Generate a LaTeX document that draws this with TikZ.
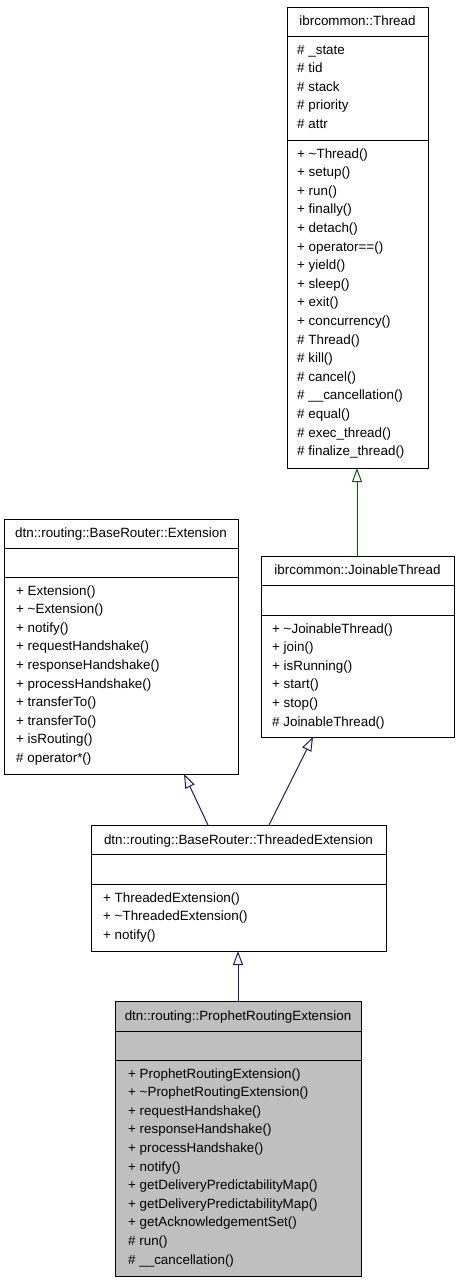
\documentclass[tikz,border=0pt]{standalone}
\usepackage{fontspec}
\setmainfont{Liberation Sans}
\usetikzlibrary{arrows.meta,calc}
\definecolor{edgeblue}{HTML}{191970}
\definecolor{edgegreen}{HTML}{006400}
\definecolor{hilite}{HTML}{BFBFBF}
\begin{document}
\begin{tikzpicture}[x=1pt,y=-1pt,
  classbox/.style={draw=black,line width=1pt,anchor=north west,inner sep=0pt,outer sep=0pt},
  sep/.style={draw=black,line width=1pt},
  item/.style={anchor=base west,inner sep=0pt,font=\fontsize{13.4}{16}\selectfont},
  title/.style={anchor=base,inner sep=0pt,font=\fontsize{13.4}{16}\selectfont},
  inh/.style={line width=1pt,-{Triangle[open,length=14pt,width=10pt,fill=white]}},
]
\fill[white] (0,0) rectangle (459,1283);
\useasboundingbox (0,0) rectangle (459,1283);

% ibrcommon::Thread
\node[classbox,fill=white,minimum width=141pt,minimum height=461pt] (thread) at (287,7) {};
\draw[sep] (287,36) -- (428,36);
\draw[sep] (287,140) -- (428,140);
\node[title] (thread-t) at (357.5,25) {ibrcommon::Thread};
\foreach \t [count=\i from 0] in {\# \_state,\# tid,\# stack,\# priority,\# attr}
  \node[item] (thread-a\i) at (297,54+\i*18.6) {\t};
\foreach \t [count=\i from 0] in {+ \textasciitilde Thread(),+ setup(),+ run(),+ finally(),+ detach(),+ operator==(),+ yield(),+ sleep(),+ exit(),+ concurrency(),\# Thread(),\# kill(),\# cancel(),\# \_\_cancellation(),\# equal(),\# exec\_thread(),\# finalize\_thread()}
  \node[item] (thread-m\i) at (297,158+\i*18.6) {\t};

% dtn::routing::BaseRouter::Extension
\node[classbox,fill=white,minimum width=234pt,minimum height=255pt] (ext) at (4,519) {};
\draw[sep] (4,548) -- (238,548);
\draw[sep] (4,577) -- (238,577);
\node[title] (ext-t) at (121,537) {dtn::routing::BaseRouter::Extension};
\foreach \t [count=\i from 0] in {+ Extension(),+ \textasciitilde Extension(),+ notify(),+ requestHandshake(),+ responseHandshake(),+ processHandshake(),+ transferTo(),+ transferTo(),+ isRouting(),\# operator*()}
  \node[item] (ext-m\i) at (16,595+\i*18.6) {\t};

% ibrcommon::JoinableThread
\node[classbox,fill=white,minimum width=193pt,minimum height=181pt] (join) at (261,556) {};
\draw[sep] (261,585) -- (454,585);
\draw[sep] (261,615) -- (454,615);
\node[title] (join-t) at (357.5,574) {ibrcommon::JoinableThread};
\foreach \t [count=\i from 0] in {+ \textasciitilde JoinableThread(),+ join(),+ isRunning(),+ start(),+ stop(),\# JoinableThread()}
  \node[item] (join-m\i) at (272,633+\i*18.6) {\t};

% dtn::routing::BaseRouter::ThreadedExtension
\node[classbox,fill=white,minimum width=295pt,minimum height=126pt] (te) at (91,825) {};
\draw[sep] (91,854) -- (386,854);
\draw[sep] (91,884) -- (386,884);
\node[title] (te-t) at (238.5,844) {dtn::routing::BaseRouter::ThreadedExtension};
\foreach \t [count=\i from 0] in {+ ThreadedExtension(),+ \textasciitilde ThreadedExtension(),+ notify()}
  \node[item] (te-m\i) at (103,902+\i*18.6) {\t};

% dtn::routing::ProphetRoutingExtension
\node[classbox,fill=hilite,minimum width=246pt,minimum height=275pt] (pr) at (115,1001) {};
\draw[sep] (115,1031) -- (361,1031);
\draw[sep] (115,1060) -- (361,1060);
\node[title] (pr-t) at (238,1020) {dtn::routing::ProphetRoutingExtension};
\foreach \t [count=\i from 0] in {+ ProphetRoutingExtension(),+ \textasciitilde ProphetRoutingExtension(),+ requestHandshake(),+ responseHandshake(),+ processHandshake(),+ notify(),+ getDeliveryPredictabilityMap(),+ getDeliveryPredictabilityMap(),+ getAcknowledgementSet(),\# run(),\# \_\_cancellation()}
  \node[item] (pr-m\i) at (128,1078+\i*18.6) {\t};

% inheritance connectors
\draw[inh,draw=edgegreen] ($(join.north west)+(96,0)$) -- ($(thread.south west)+(70,0)$);
\draw[inh,draw=edgeblue] ($(te.north west)+(117,0)$) -- ($(ext.south west)+(180,0)$);
\draw[inh,draw=edgeblue] ($(te.north west)+(178,0)$) -- ($(join.south west)+(52,0)$);
\draw[inh,draw=edgeblue] ($(pr.north west)+(123,0)$) -- ($(te.south west)+(147,0)$);
\end{tikzpicture}
\end{document}
